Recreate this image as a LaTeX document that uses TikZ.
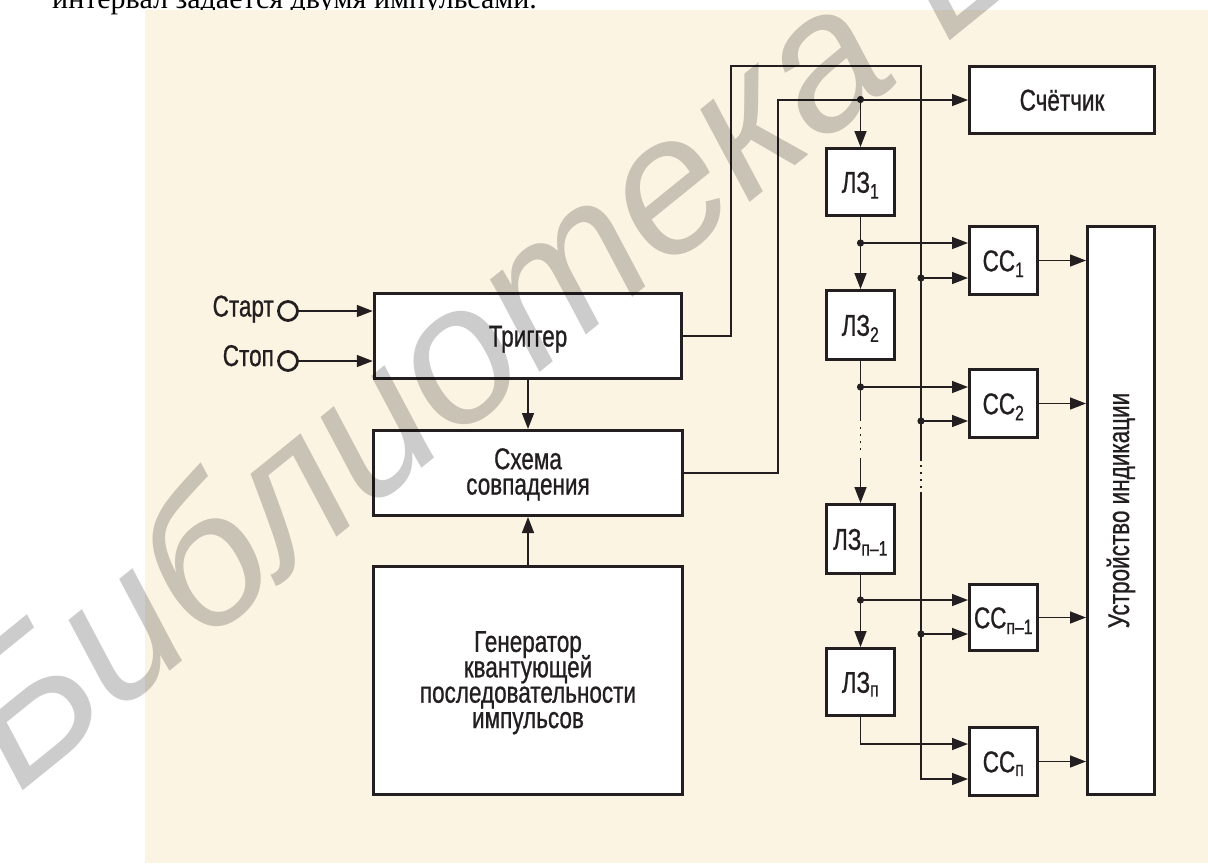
\documentclass[tikz,border=0pt]{standalone}
\usepackage{fontspec}
\setmainfont{Liberation Sans}[FakeStretch=0.75,FakeBold=0.8]
\newfontfamily\topfont{Liberation Serif}
\newfontfamily\wmfont{Liberation Sans}
\usetikzlibrary{arrows.meta,calc}
\definecolor{bg}{RGB}{252,244,227}
\definecolor{ink}{RGB}{35,31,32}
\newcommand\labfont{\fontsize{30}{25.4}\selectfont\lineskiplimit=-100pt\relax}
\begin{document}
\begin{tikzpicture}[x=1pt,y=-1pt,
  box/.style={draw=ink,line width=3pt,fill=white,inner sep=0pt},
  txt/.style={text=ink,inner sep=0pt,align=center,font=\labfont},
  wire/.style={draw=ink,line width=1.5pt},
  arr/.style={wire,-{Triangle[length=16pt,width=12pt]}},
  dotline/.style={draw=ink,line width=1.5pt,dash pattern=on 1.5pt off 5.5pt},
  jdot/.style={fill=ink},
  term/.style={draw=ink,circle,line width=2.8pt,minimum size=19pt,inner sep=0pt},
]
\useasboundingbox (0,0) rectangle (1208,863);
\clip (0,0) rectangle (1208,863);
\fill[white] (0,0) rectangle (1208,863);
\node[anchor=base west,inner sep=0pt,font=\topfont\fontsize{30}{30}\selectfont] (toptext) at (52,8.5) {интервал задается двумя импульсами.};
\fill[bg] (145,10) rectangle (1208,863);

% main blocks
\node[box,minimum width=307.5pt,minimum height=84.5pt] (trig) at (528,336) {};
\node[box,minimum width=309pt,minimum height=85pt] (sch) at (528,473) {};
\node[box,minimum width=309pt,minimum height=228pt] (gen) at (528,680.5) {};
\node[box,minimum width=185pt,minimum height=67pt] (cnt) at (1062,100) {};
\node[box,minimum width=68pt,minimum height=67pt] (lz1) at (860.5,182) {};
\node[box,minimum width=68pt,minimum height=69pt] (lz2) at (860.5,325) {};
\node[box,minimum width=68pt,minimum height=69pt] (lz3) at (860.5,539) {};
\node[box,minimum width=68pt,minimum height=67pt] (lz4) at (860.5,682) {};
\node[box,minimum width=68pt,minimum height=68pt] (cc1) at (1003.5,260.5) {};
\node[box,minimum width=68pt,minimum height=68pt] (cc2) at (1003.5,403.5) {};
\node[box,minimum width=68pt,minimum height=66pt] (cc3) at (1003.5,617.5) {};
\node[box,minimum width=68pt,minimum height=68pt] (cc4) at (1003.5,761.5) {};
\node[box,minimum width=67pt,minimum height=568pt] (ind) at (1121,510.5) {};

% texts
\node[txt,anchor=base] (trigtxt) at (528,346.5) {Триггер};
\node[txt,anchor=north] (schtxt) at (528,448) {Схема\\совпадения};
\node[txt,anchor=north] (gentxt) at (528,631) {Генератор\\квантующей\\последовательности\\импульсов};
\node[txt,anchor=base] (cnttxt) at (1062,110.5) {Счётчик};
\node[txt,anchor=base] (lz1txt) at (860.5,192.75) {ЛЗ\textsubscript{1}};
\node[txt,anchor=base] (lz2txt) at (860.5,335.75) {ЛЗ\textsubscript{2}};
\node[txt,anchor=base] (lz3txt) at (860.5,549.75) {ЛЗ\textsubscript{п–1}};
\node[txt,anchor=base] (lz4txt) at (860.5,692.75) {ЛЗ\textsubscript{п}};
\node[txt,anchor=base] (cc1txt) at (1003.5,271.25) {СС\textsubscript{1}};
\node[txt,anchor=base] (cc2txt) at (1003.5,414.25) {СС\textsubscript{2}};
\node[txt,anchor=base] (cc3txt) at (1003.5,628.25) {СС\textsubscript{п–1}};
\node[txt,anchor=base] (cc4txt) at (1003.5,772.25) {СС\textsubscript{п}};
\node[txt,anchor=base,rotate=90] (indtxt) at (1129,510.5) {Устройство индикации};

% inputs
\node[term] (start) at (288,311) {};
\node[term] (stop) at (288,361) {};
\node[txt,anchor=base east] (starttxt) at (274,316.5) {Старт};
\node[txt,anchor=base east] (stoptxt) at (274,366) {Стоп};
\draw[arr] (start.east) -- (start.east -| trig.west);
\draw[arr] (stop.east) -- (stop.east -| trig.west);
\draw[arr] (trig.south) -- (sch.north);
\draw[arr] (gen.north) -- (sch.south);

% coordinates
\coordinate (bus) at (921,66);
\coordinate (loopA) at (731,336);
\coordinate (loopB) at (778,473);
\coordinate (split) at (860.5,99.5);
\coordinate (cc1u) at ([yshift=17.5pt]cc1.west);
\coordinate (cc1l) at ([yshift=-17.5pt]cc1.west);
\coordinate (cc2u) at ([yshift=16.5pt]cc2.west);
\coordinate (cc2l) at ([yshift=-17.5pt]cc2.west);
\coordinate (cc3u) at ([yshift=17.5pt]cc3.west);
\coordinate (cc3l) at ([yshift=-16.5pt]cc3.west);
\coordinate (cc4u) at ([yshift=17.5pt]cc4.west);
\coordinate (cc4l) at ([yshift=-17.5pt]cc4.west);

% trigger bus
\draw[wire] (trig.east) -- (loopA) |- (bus) -- (921,461);
\draw[dotline] (921,465) -- (921,489);
\draw[arr] (921,492) |- (cc4l);
\foreach \c in {cc1l,cc2l,cc3l}{
  \fill[jdot] (bus |- \c) circle (3.6pt);
  \draw[arr] (bus |- \c) -- (\c);
}

% coincidence output
\draw[arr] (sch.east) -- (loopB) |- (cnt.west);
\fill[jdot] (split) circle (3.6pt);
\draw[arr] (split) -- (lz1.north);

% delay chain
\draw[arr] (lz1.south) -- (lz2.north);
\fill[jdot] (lz1.south |- cc1u) circle (3.6pt);
\draw[arr] (lz1.south |- cc1u) -- (cc1u);
\draw[wire] (lz2.south) -- (860.5,421);
\fill[jdot] (lz2.south |- cc2u) circle (3.6pt);
\draw[arr] (lz2.south |- cc2u) -- (cc2u);
\draw[dotline] (860.5,427) -- (860.5,455);
\draw[arr] (860.5,458) -- (lz3.north);
\draw[arr] (lz3.south) -- (lz4.north);
\fill[jdot] (lz3.south |- cc3u) circle (3.6pt);
\draw[arr] (lz3.south |- cc3u) -- (cc3u);
\draw[arr] (lz4.south) |- (cc4u);

% outputs
\foreach \c in {cc1,cc2,cc3,cc4}{
  \draw[arr] (\c.east) -- (\c.east -| ind.west);
}

% watermark
\node[anchor=base west,inner sep=0pt,rotate=39,opacity=0.2,text=black,
  font=\wmfont\itshape\fontsize{195}{195}\selectfont] (wm) at (18,795) {Библиотека БГУИР};
\end{tikzpicture}
\end{document}
